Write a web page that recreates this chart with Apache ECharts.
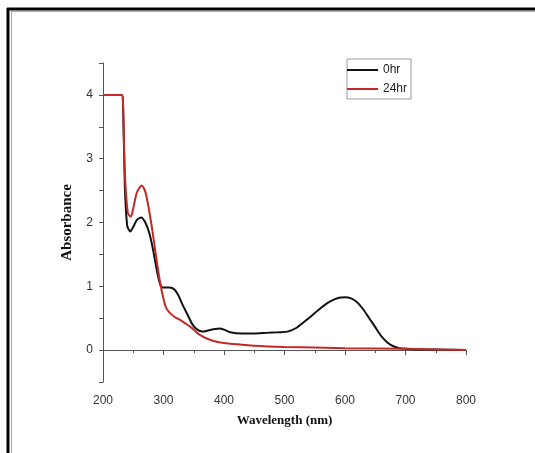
<!DOCTYPE html>
<html><head><meta charset="utf-8">
<script src="https://cdn.jsdelivr.net/npm/echarts@6/dist/echarts.min.js"></script>
<style>html,body{margin:0;padding:0;background:#fff}#c{width:535px;height:453px}</style>
</head><body><div id="c"></div>
<script>
var seriesNames = ['0hr', '24hr'];
var wl0 =  [200, 231, 233, 236, 240, 245, 250, 256, 263, 270, 277, 283, 290, 295, 300, 310, 318, 325, 332, 340, 348, 356, 364, 375, 385, 393, 400, 410, 430, 450, 470, 490, 505, 520, 540, 560, 575, 590, 600, 610, 620, 630, 640, 650, 660, 670, 680, 690, 700, 720, 750, 800];
var abs0 = [4.0, 4.0, 3.9, 2.6, 1.95, 1.86, 1.93, 2.04, 2.08, 2.0, 1.82, 1.56, 1.2, 1.02, 0.98, 0.98, 0.95, 0.85, 0.7, 0.55, 0.4, 0.32, 0.29, 0.31, 0.33, 0.34, 0.32, 0.28, 0.26, 0.26, 0.27, 0.28, 0.29, 0.35, 0.5, 0.66, 0.76, 0.82, 0.83, 0.81, 0.75, 0.64, 0.5, 0.36, 0.22, 0.12, 0.06, 0.03, 0.02, 0.01, 0.01, 0.0];
var wl24 =  [200, 231, 233, 236, 241, 246, 250, 256, 264, 270, 276, 282, 288, 294, 300, 305, 313, 320, 328, 336, 345, 360, 380, 400, 450, 500, 600, 700, 800];
var abs24 = [4.0, 4.0, 3.9, 2.8, 2.15, 2.09, 2.22, 2.47, 2.58, 2.48, 2.2, 1.85, 1.45, 1.08, 0.8, 0.65, 0.56, 0.51, 0.47, 0.42, 0.36, 0.24, 0.15, 0.11, 0.07, 0.05, 0.03, 0.02, 0.0];
var xTicks = [200, 300, 400, 500, 600, 700, 800];
var yTicks = [0, 1, 2, 3, 4];

function pairs(xs, ys) { return xs.map(function (x, i) { return [x, ys[i]]; }); }

var chart = echarts.init(document.getElementById('c'));
var tickFont = {fontFamily: 'Liberation Sans, Arial, sans-serif', fontSize: 12, color: '#333'};
chart.setOption({
  animation: false,
  backgroundColor: '#fff',
  grid: {left: 103, right: 69, top: 63, bottom: 71},
  legend: {
    left: 347, top: 59, orient: 'vertical',
    data: seriesNames,
    icon: 'rect',
    borderColor: '#999', borderWidth: 1, borderRadius: 0,
    padding: [4, 4, 3, 0],
    itemWidth: 31, itemHeight: 2, itemGap: 5,
    textStyle: {fontFamily: 'Liberation Sans, Arial, sans-serif', fontSize: 12, color: '#222', lineHeight: 14}
  },
  xAxis: {
    type: 'value', min: 200, max: 800, interval: 100,
    name: 'Wavelength (nm)', nameLocation: 'middle', nameGap: 32,
    nameTextStyle: {fontFamily: 'Liberation Serif, Times New Roman, serif', fontWeight: 'bold', fontSize: 13, color: '#111'},
    axisLine: {lineStyle: {color: '#555', width: 1}},
    axisTick: {length: 5, lineStyle: {color: '#555'}},
    minorTick: {show: true, splitNumber: 2, length: 3, lineStyle: {color: '#555'}},
    axisLabel: Object.assign({margin: 13, customValues: xTicks}, tickFont),
    splitLine: {show: false}
  },
  yAxis: {
    type: 'value', min: -0.5, max: 4.5, interval: 0.5,
    name: 'Absorbance', nameLocation: 'middle', nameGap: 28,
    nameTextStyle: {fontFamily: 'Liberation Serif, Times New Roman, serif', fontWeight: 'bold', fontSize: 15, color: '#111'},
    axisLine: {show: true, lineStyle: {color: '#555', width: 1}},
    axisTick: {show: true, length: 4, lineStyle: {color: '#555'}},
    axisLabel: Object.assign({margin: 10, customValues: yTicks}, tickFont),
    splitLine: {show: false}
  },
  graphic: [
    {type: 'line', shape: {x1: 7, y1: 9, x2: 535, y2: 9}, style: {stroke: '#000', lineWidth: 3}, silent: true},
    {type: 'line', shape: {x1: 8, y1: 8, x2: 8, y2: 453}, style: {stroke: '#000', lineWidth: 3}, silent: true},
    {type: 'line', shape: {x1: 11, y1: 11.5, x2: 535, y2: 11.5}, style: {stroke: '#aaa', lineWidth: 1}, silent: true},
    {type: 'line', shape: {x1: 11.5, y1: 11, x2: 11.5, y2: 453}, style: {stroke: '#aaa', lineWidth: 1}, silent: true}
  ],
  series: [
    {name: seriesNames[0], type: 'line', data: pairs(wl0, abs0), symbol: 'none', smooth: 0.25,
     lineStyle: {color: '#111', width: 2}, itemStyle: {color: '#111'}, z: 3},
    {name: seriesNames[1], type: 'line', data: pairs(wl24, abs24), symbol: 'none', smooth: 0.25,
     lineStyle: {color: '#c62828', width: 2}, itemStyle: {color: '#c62828'}, z: 4}
  ]
});
</script></body></html>
